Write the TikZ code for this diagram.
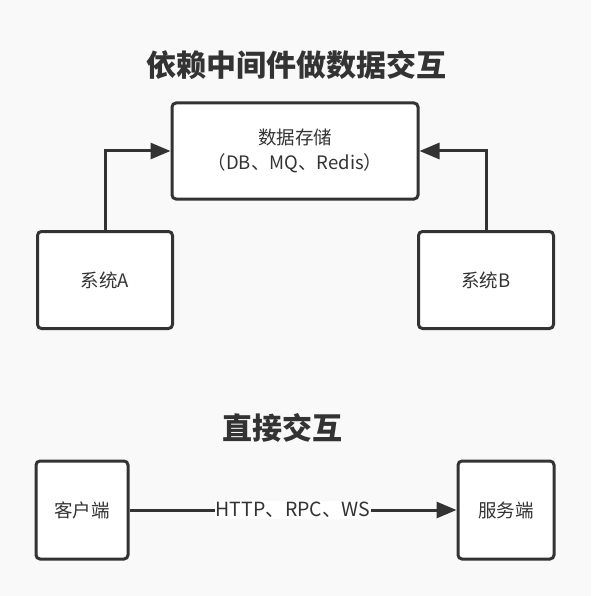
\documentclass[tikz,border=0pt]{standalone}
\usepackage{fontspec}
\setmainfont{Noto Sans CJK SC}
\usetikzlibrary{arrows.meta}
\definecolor{ink}{HTML}{333333}
\definecolor{paper}{HTML}{F9F9F9}
\begin{document}
\begin{tikzpicture}[x=1pt, y=-1pt,
  box/.style={draw=ink, line width=3pt, rounded corners=4pt, fill=white,
    inner sep=0pt, text=ink, align=center,
    font=\fontsize{18.5}{25}\selectfont},
  link/.style={draw=ink, line width=3pt,
    -{Triangle[length=20pt,width=16pt]}},
  heading/.style={text=ink, inner sep=0pt,
    font=\fontsize{30}{36}\selectfont\bfseries},
  tag/.style={fill=white, text=ink, inner sep=1pt,
    font=\fontsize{19.5}{24}\selectfont}]
% canvas
\fill[paper] (0,0) rectangle (591,596);
\useasboundingbox (0,0) rectangle (591,596);

% upper part: two systems sharing a data store
\node[heading] (title1) at (296,65) {依赖中间件做数据交互};
\node[box, minimum width=246pt, minimum height=96pt] (store) at (295,151)
  {数据存储\\（DB、MQ、Redis）};
\node[box, minimum width=135pt, minimum height=97pt] (sysA) at (105,280) {系统A};
\node[box, minimum width=135pt, minimum height=97pt] (sysB) at (486,280) {系统B};
\draw[link] (sysA.north) |- (store.west);
\draw[link] (sysB.north) |- (store.east);

% lower part: direct call
\node[heading] (title2) at (282,428) {直接交互};
\node[box, minimum width=92pt, minimum height=98pt] (client) at (82,510) {客户端};
\node[box, minimum width=96pt, minimum height=98pt] (server) at (506,510) {服务端};
\draw[link] (client.east) -- node[tag] (proto) {HTTP、RPC、WS} (server.west);
\end{tikzpicture}
\end{document}
